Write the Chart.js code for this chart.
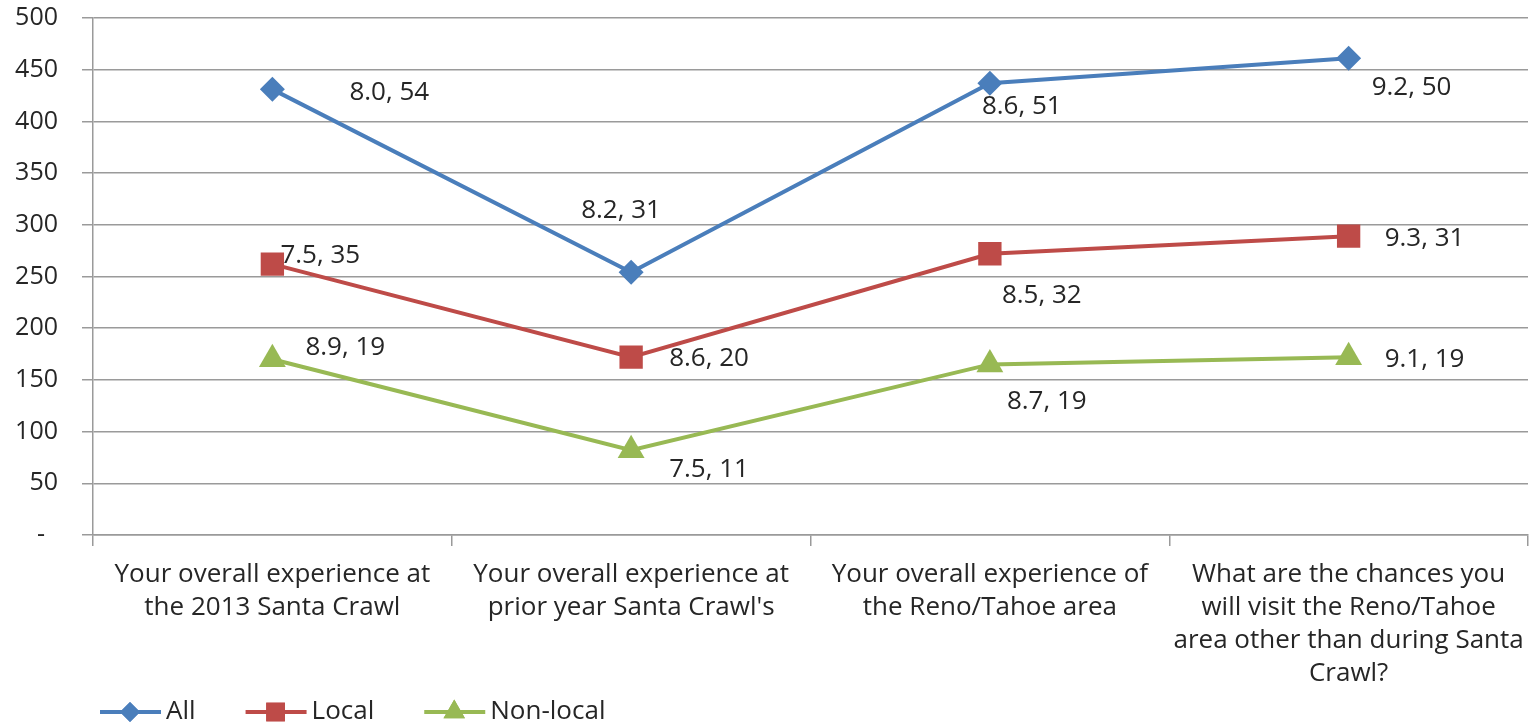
<!DOCTYPE html>
<html>
<head>
<meta charset="utf-8">
<script src="https://cdn.jsdelivr.net/npm/chart.js@4"></script>
<style>
  html, body { margin: 0; padding: 0; background: #fff; }
  #wrap { width: 1532px; height: 725px; }
</style>
</head>
<body>
<div id="wrap"><canvas id="chart"></canvas></div>
<script>
const categories = [
  ["Your overall experience at", "the 2013 Santa Crawl"],
  ["Your overall experience at", "prior year Santa Crawl's"],
  ["Your overall experience of", "the Reno/Tahoe area"],
  ["What are the chances you", "will visit the Reno/Tahoe", "area other than during Santa", "Crawl?"]
];
const allValues = [431, 254, 437, 461];
const localValues = [262, 172, 272, 289];
const nonLocalValues = [170, 82, 165, 172];
const allLabels = ["8.0, 54", "8.2, 31", "8.6, 51", "9.2, 50"];
const localLabels = ["7.5, 35", "8.6, 20", "8.5, 32", "9.3, 31"];
const nonLocalLabels = ["8.9, 19", "7.5, 11", "8.7, 19", "9.1, 19"];
const yTicks = [0, 50, 100, 150, 200, 250, 300, 350, 400, 450, 500];

const FONT = "'Open Sans', 'Noto Sans', sans-serif";
const TEXT = "#262626";
const SIZE = 26;

// label offsets from the point (left edge, vertical centre)
const labelOffsets = [
  [[77, 3], [-50, -62], [-8, 23], [23, 29]],
  [[8, -8], [38, 1], [12, 42], [36, 2]],
  [[33, -12], [38, 19], [17, 37], [36, 2]]
];
const labelSets = [allLabels, localLabels, nonLocalLabels];

const dataLabels = {
  id: "dataLabels",
  afterDatasetsDraw(chart) {
    const ctx = chart.ctx;
    ctx.save();
    ctx.font = SIZE + "px " + FONT;
    ctx.fillStyle = TEXT;
    ctx.textAlign = "left";
    ctx.textBaseline = "middle";
    chart.data.datasets.forEach((ds, i) => {
      chart.getDatasetMeta(i).data.forEach((pt, j) => {
        const off = labelOffsets[i][j];
        ctx.fillText(labelSets[i][j], pt.x + off[0], pt.y + off[1]);
      });
    });
    ctx.restore();
  }
};

const bottomLegend = {
  id: "bottomLegend",
  afterDraw(chart) {
    const ctx = chart.ctx;
    const y = 712;
    let x = 100;
    ctx.save();
    ctx.font = SIZE + "px " + FONT;
    ctx.textBaseline = "middle";
    chart.data.datasets.forEach((ds) => {
      ctx.strokeStyle = ds.borderColor;
      ctx.lineWidth = 4;
      ctx.beginPath();
      ctx.moveTo(x, y);
      ctx.lineTo(x + 61, y);
      ctx.stroke();
      ctx.fillStyle = ds.backgroundColor;
      Chart.helpers.drawPoint(ctx, { pointStyle: ds.pointStyle, radius: ds.pointRadius * 0.8, borderWidth: 0 }, x + 30, y);
      ctx.fill();
      ctx.fillStyle = TEXT;
      ctx.fillText(ds.label, x + 66, y);
      x += 66 + ctx.measureText(ds.label).width + 50;
    });
    ctx.restore();
  }
};

new Chart(document.getElementById("chart"), {
  type: "line",
  data: {
    labels: categories,
    datasets: [
      {
        label: "All",
        data: allValues,
        borderColor: "#4a7ebb",
        backgroundColor: "#4a7ebb",
        borderWidth: 4,
        pointStyle: "rectRot",
        pointRadius: 12.5,
        pointBorderWidth: 0
      },
      {
        label: "Local",
        data: localValues,
        borderColor: "#be4b48",
        backgroundColor: "#be4b48",
        borderWidth: 4,
        pointStyle: "rect",
        pointRadius: 16.5,
        pointBorderWidth: 0
      },
      {
        label: "Non-local",
        data: nonLocalValues,
        borderColor: "#98b954",
        backgroundColor: "#98b954",
        borderWidth: 4,
        pointStyle: "triangle",
        pointRadius: 15.5,
        pointBorderWidth: 0
      }
    ]
  },
  options: {
    responsive: true,
    maintainAspectRatio: false,
    animation: false,
    layout: { autoPadding: false, padding: { top: 18, right: 4, bottom: 0, left: 0 } },
    plugins: {
      legend: { display: false },
      tooltip: { enabled: false }
    },
    scales: {
      x: {
        offset: true,
        grid: {
          offset: true,
          drawOnChartArea: false,
          color: "#9a9a9a",
          lineWidth: 1.5,
          tickLength: 11
        },
        border: { color: "#9a9a9a", width: 1.5 },
        ticks: {
          color: TEXT,
          font: { family: FONT, size: SIZE, lineHeight: 1.27 },
          maxRotation: 0,
          autoSkip: false,
          padding: 12
        },
        afterFit(scale) {
          scale.height = 190;
          scale.paddingLeft = 0;
          scale.paddingRight = 0;
        }
      },
      y: {
        min: 0,
        max: 500,
        afterBuildTicks(scale) { scale.ticks = yTicks.map(v => ({ value: v })); },
        grid: {
          color: "#9a9a9a",
          lineWidth: 1.5,
          tickLength: 11
        },
        border: { color: "#9a9a9a", width: 1.5 },
        ticks: {
          color: TEXT,
          font: { family: FONT, size: 25 },
          padding: 24,
          callback: (v) => (v === 0 ? "-  " : v) // accounting-style dash for zero
        },
        afterFit(scale) {
          scale.width = 93;
          scale.paddingTop = 0;
          scale.paddingBottom = 0;
        }
      }
    }
  },
  plugins: [dataLabels, bottomLegend]
});
</script>
</body>
</html>
